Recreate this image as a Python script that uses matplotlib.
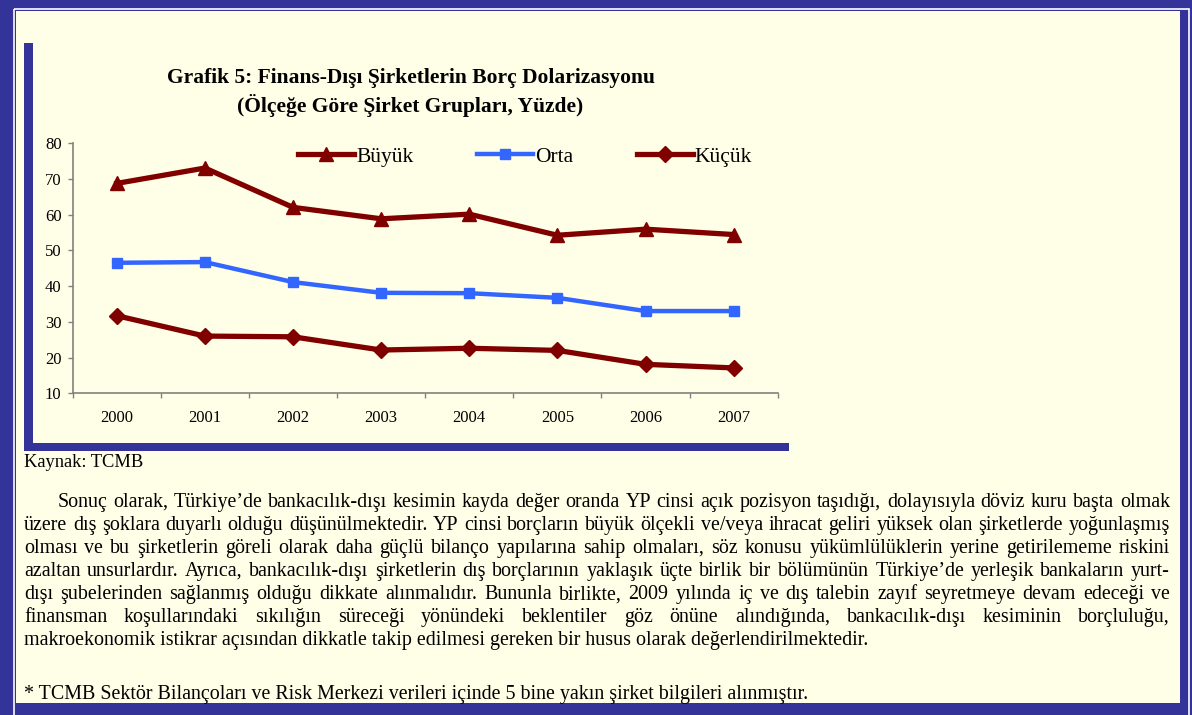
import matplotlib
matplotlib.use("Agg")
import matplotlib.pyplot as plt
from matplotlib.patches import Rectangle

# data
years = ["2000", "2001", "2002", "2003", "2004", "2005", "2006", "2007"]
buyuk = [68.7, 73.0, 62.0, 58.8, 60.1, 54.2, 55.9, 54.4]
orta = [46.5, 46.7, 41.1, 38.1, 38.0, 36.7, 33.0, 33.0]
kucuk = [31.7, 26.0, 25.8, 22.1, 22.6, 22.0, 18.1, 17.1]
series_names = ["Büyük", "Orta", "Küçük"]
yticks = [10, 20, 30, 40, 50, 60, 70, 80]

title_lines = ["Grafik 5: Finans-Dışı Şirketlerin Borç Dolarizasyonu",
               "(Ölçeğe Göre Şirket Grupları, Yüzde)"]
source = "Kaynak: TCMB"
paragraph = [
    "Sonuç olarak, Türkiye’de bankacılık-dışı kesimin kayda değer oranda YP cinsi açık pozisyon taşıdığı, dolayısıyla döviz kuru başta olmak",
    "üzere dış şoklara duyarlı olduğu düşünülmektedir. YP cinsi borçların büyük ölçekli ve/veya ihracat geliri yüksek olan şirketlerde yoğunlaşmış",
    "olması ve bu şirketlerin göreli olarak daha güçlü bilanço yapılarına sahip olmaları, söz konusu yükümlülüklerin yerine getirilememe riskini",
    "azaltan unsurlardır. Ayrıca, bankacılık-dışı şirketlerin dış borçlarının yaklaşık üçte birlik bir bölümünün Türkiye’de yerleşik bankaların yurt-",
    "dışı şubelerinden sağlanmış olduğu dikkate alınmalıdır. Bununla birlikte, 2009 yılında iç ve dış talebin zayıf seyretmeye devam edeceği ve",
    "finansman koşullarındaki sıkılığın süreceği yönündeki beklentiler göz önüne alındığında, bankacılık-dışı kesiminin borçluluğu,",
    "makroekonomik istikrar açısından dikkatle takip edilmesi gereken bir husus olarak değerlendirilmektedir.",
]
footnote = "* TCMB Sektör Bilançoları ve Risk Merkezi verileri içinde 5 bine yakın şirket bilgileri alınmıştır."

navy = "#333399"
cream = "#FFFFE7"
dark_red = "#800000"
blue = "#3366FF"
serif = "Liberation Serif"

W, H = 1192, 715
fig = plt.figure(figsize=(W / 100, H / 100), dpi=100, facecolor=navy)

# page background, pixel coordinates
bg = fig.add_axes([0, 0, 1, 1])
bg.set_xlim(0, W)
bg.set_ylim(H, 0)
bg.axis("off")
bg.add_patch(Rectangle((13.5, 9), 1175.5, 720, fill=False, ec="white", lw=1.2))
bg.add_patch(Rectangle((16, 11), 1164, 692, fc=cream, ec="none"))
# chart frame bars
bg.add_patch(Rectangle((24, 43), 9, 408, fc=navy, ec="none"))
bg.add_patch(Rectangle((24, 443), 765, 8, fc=navy, ec="none"))

for i, tl in enumerate(title_lines):
    bg.text(410.5, 83 + 29 * i, tl, ha="center", va="baseline", fontfamily=serif,
            fontweight="bold", fontsize=15.5)

# chart
ax = fig.add_axes([72.7 / W, 1 - 393.3 / H, 705 / W, 250.3 / H])
ax.set_facecolor("none")
x = list(range(len(years)))
ax.plot(x, buyuk, color=dark_red, lw=3.8, marker="^", ms=10, label=series_names[0], zorder=3)
ax.plot(x, orta, color=blue, lw=3.2, marker="s", ms=7, label=series_names[1], zorder=3)
ax.plot(x, kucuk, color=dark_red, lw=3.8, marker="D", ms=8.5, label=series_names[2], zorder=3)
ax.set_xlim(-0.5, len(years) - 0.5)
ax.set_ylim(10, 80)
ax.set_yticks(yticks)
ax.set_xticks([i - 0.5 for i in range(len(years) + 1)])
ax.set_xticklabels([])
ax.set_xticks(x, minor=True)
ax.set_xticklabels(years, minor=True)
for s in ["top", "right"]:
    ax.spines[s].set_visible(False)
for s in ["left", "bottom"]:
    ax.spines[s].set_color("#808080")
    ax.spines[s].set_linewidth(1.2)
ax.tick_params(axis="both", which="major", color="#808080", length=3.5, width=1.0,
               direction="out", labelsize=12)
ax.tick_params(axis="y", pad=4.5)
ax.tick_params(axis="x", which="minor", length=0, pad=12, labelsize=12)
for lab in ax.get_yticklabels() + ax.get_xticklabels(minor=True):
    lab.set_fontfamily(serif)

leg = fig.legend(loc="center left", bbox_to_anchor=(298 / W, 1 - 157 / H), ncol=3,
                 frameon=False, prop={"family": serif, "size": 15.5},
                 handlelength=2.6, handletextpad=0.1, columnspacing=2.95,
                 borderpad=0, borderaxespad=0)

# text below the chart
bg.text(24, 467.3, source, fontfamily=serif, fontsize=13.3, va="baseline")

renderer = fig.canvas.get_renderer()
right_edge = 1170
base = 506.7
step = 23.1
body_size = 14.4
for i, line in enumerate(paragraph):
    y = base + i * step
    x0 = 57.3 if i == 0 else 24
    if i == len(paragraph) - 1:
        bg.text(x0, y, line, fontfamily=serif, fontsize=body_size, va="baseline")
        continue
    words = line.split(" ")
    texts = [bg.text(x0, y, w, fontfamily=serif, fontsize=body_size, va="baseline") for w in words]
    widths = [t.get_window_extent(renderer).width for t in texts]
    gap = (right_edge - x0 - sum(widths)) / (len(words) - 1)
    pos = x0
    for t, w in zip(texts, widths):
        t.set_x(pos)
        pos += w + gap

bg.text(24, 699, footnote, fontfamily=serif, fontsize=body_size, va="baseline")

fig.savefig("out.png", dpi=100, facecolor=navy)
